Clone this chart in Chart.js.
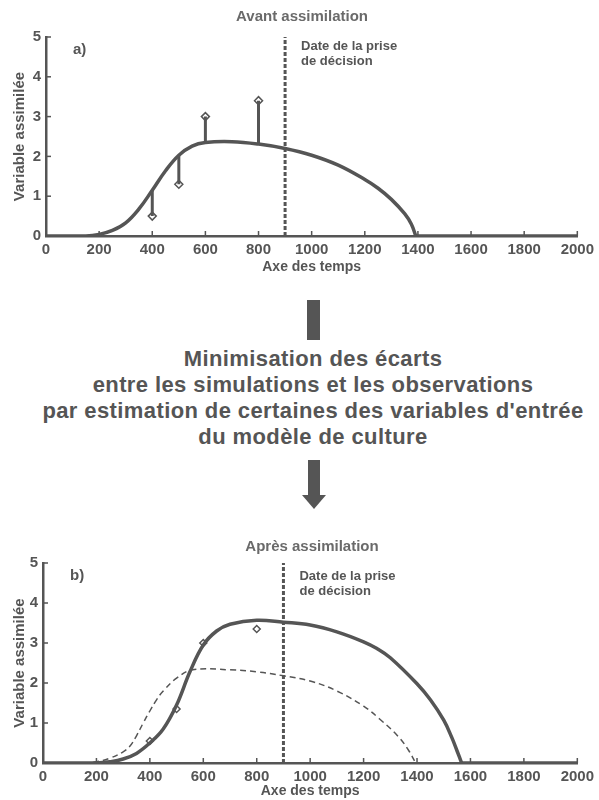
<!DOCTYPE html>
<html>
<head>
<meta charset="utf-8">
<script src="https://cdn.jsdelivr.net/npm/chart.js@4.4.0/dist/chart.umd.min.js"></script>
<style>
  body { margin: 0; background: #fff; font-family: 'Liberation Sans', Arial, sans-serif; }
  #page { position: relative; width: 599px; height: 800px; overflow: hidden; }
  .box { position: absolute; left: 0; width: 599px; }
  #top-box { top: 0; height: 276px; }
  #bottom-box { top: 520px; height: 280px; }
  .stem { position: absolute; background: #555; }
  #stem1 { left: 307px; top: 300px; width: 13px; height: 40px; }
  #stem2 { left: 308px; top: 460px; width: 12px; height: 36px; }
  #head2 { position: absolute; left: 302px; top: 495px; width: 0; height: 0;
    border-left: 12px solid transparent; border-right: 12px solid transparent; border-top: 14px solid #555; }
  #middle { position: absolute; left: 0; top: 346px; width: 626px; text-align: center;
    font-weight: bold; font-size: 22px; letter-spacing: 0.4px; line-height: 26px; color: #555; }
</style>
</head>
<body>
<div id="page">
  <div class="box" id="top-box"><canvas id="chart-a"></canvas></div>
  <div class="stem" id="stem1"></div>
  <div id="middle">
    Minimisation des écarts<br>
    entre les simulations et les observations<br>
    par estimation de certaines des variables d'entrée<br>
    du modèle de culture
  </div>
  <div class="stem" id="stem2"></div>
  <div id="head2"></div>
  <div class="box" id="bottom-box"><canvas id="chart-b"></canvas></div>
</div>
<script>
// simulation before assimilation (panel a)
const timeA = [0, 150, 200, 250, 300, 350, 400, 450, 500, 550, 600, 700, 800, 900, 1000, 1100, 1200, 1250, 1300, 1350, 1375, 1392];
const simA = [0, 0, 0.04, 0.14, 0.33, 0.68, 1.15, 1.64, 2.03, 2.26, 2.35, 2.37, 2.31, 2.2, 2.03, 1.78, 1.42, 1.2, 0.92, 0.56, 0.3, 0];

// same simulation as redrawn dashed in panel b
const timeOld = [0, 150, 200, 250, 300, 325, 350, 375, 400, 425, 450, 500, 560, 700, 800, 900, 1000, 1100, 1200, 1260, 1330, 1370, 1395];
const simOld = [0, 0, 0.03, 0.12, 0.28, 0.42, 0.68, 1.0, 1.3, 1.58, 1.8, 2.12, 2.33, 2.33, 2.28, 2.18, 2.05, 1.8, 1.42, 1.1, 0.66, 0.3, 0];

// simulation after assimilation (panel b)
const timeB = [0, 200, 250, 300, 350, 400, 450, 500, 550, 600, 650, 700, 800, 900, 1000, 1100, 1200, 1250, 1300, 1400, 1450, 1500, 1530, 1550, 1567];
const simB = [0, 0, 0.03, 0.1, 0.24, 0.5, 0.85, 1.45, 2.28, 2.95, 3.3, 3.47, 3.57, 3.52, 3.45, 3.28, 3.03, 2.86, 2.63, 1.98, 1.58, 1.07, 0.64, 0.3, 0];

// observations
const obsTimes = [400, 500, 600, 800];
const obsA = [0.5, 1.3, 3.0, 3.4];
const simAtObsA = [1.15, 2.03, 2.35, 2.31];
const obsB = [0.55, 1.35, 3.0, 3.35];

const decisionTime = 900;
const xTicks = [0, 200, 400, 600, 800, 1000, 1200, 1400, 1600, 1800, 2000];
const yTicks = [0, 1, 2, 3, 4, 5];

const ink = '#555';
const fontFamily = "'Liberation Sans', Arial, sans-serif";

const toPoints = (xs, ys) => xs.map((x, i) => ({ x: x, y: ys[i] }));
// flat part of a curve after it reaches zero
const tail = xs => [{ x: xs[xs.length - 1], y: 0 }, { x: xTicks[xTicks.length - 1], y: 0 }];

// vertical segments between observation and simulation
const residuals = [];
obsTimes.forEach((t, i) => {
    residuals.push({ x: t, y: obsA[i] });
    residuals.push({ x: t, y: simAtObsA[i] });
    residuals.push({ x: t, y: null });
});

const decisionLine = [{ x: decisionTime, y: 0 }, { x: decisionTime, y: 5 }];

// short ticks drawn inside the axes
const inwardTicks = {
    id: 'inwardTicks',
    afterDraw(chart) {
        const { ctx, chartArea, scales: { x, y } } = chart;
        ctx.save();
        ctx.strokeStyle = ink;
        ctx.lineWidth = 1.5;
        xTicks.forEach(v => {
            const px = x.getPixelForValue(v);
            ctx.beginPath();
            ctx.moveTo(px, chartArea.bottom);
            ctx.lineTo(px, chartArea.bottom - 5);
            ctx.stroke();
        });
        yTicks.forEach(v => {
            const py = y.getPixelForValue(v);
            ctx.beginPath();
            ctx.moveTo(chartArea.left, py);
            ctx.lineTo(chartArea.left + 5, py);
            ctx.stroke();
        });
        ctx.restore();
    }
};

// titles and notes
function labels(title, titleX, titleY, panel, noteTop) {
    return {
        id: 'labels',
        afterDraw(chart) {
            const { ctx, chartArea, scales: { x } } = chart;
            ctx.save();
            ctx.textBaseline = 'middle';
            ctx.textAlign = 'center';
            ctx.fillStyle = '#6a6a6a';
            ctx.font = 'bold 15px ' + fontFamily;
            ctx.fillText(title, titleX, titleY);

            ctx.fillStyle = ink;
            ctx.textAlign = 'left';
            ctx.font = 'bold 15px ' + fontFamily;
            ctx.fillText(panel, chartArea.left + 27, chartArea.top + 13);

            ctx.font = 'bold 13px ' + fontFamily;
            const nx = x.getPixelForValue(decisionTime) + 16;
            ctx.fillText('Date de la prise', nx, chartArea.top + noteTop);
            ctx.fillText('de décision', nx, chartArea.top + noteTop + 15);
            ctx.restore();
        }
    };
}

function makeOptions(padTop, yWidth, xHeight) {
    return {
        responsive: true,
        maintainAspectRatio: false,
        animation: { duration: 0 },
        layout: { padding: { top: padTop, right: 15, left: 0, bottom: 0 } },
        scales: {
            x: {
                type: 'linear',
                min: 0,
                max: 2000,
                afterFit: scale => { scale.height = xHeight; },
                afterBuildTicks: scale => { scale.ticks = xTicks.map(v => ({ value: v })); },
                grid: { display: false, drawTicks: false },
                border: { display: true, color: ink, width: 2.5 },
                ticks: { color: ink, padding: 5, maxRotation: 0, callback: v => String(v),
                    font: { family: fontFamily, size: 15, weight: 'bold' } },
                title: { display: true, text: 'Axe des temps', color: ink, padding: { top: 3, bottom: 0 },
                    font: { family: fontFamily, size: 14, weight: 'bold' } }
            },
            y: {
                min: 0,
                max: 5,
                afterFit: scale => { scale.width = yWidth; },
                afterBuildTicks: scale => { scale.ticks = yTicks.map(v => ({ value: v })); },
                grid: { display: false, drawTicks: false },
                border: { display: true, color: ink, width: 2.5 },
                ticks: { color: ink, padding: 5, callback: v => String(v),
                    font: { family: fontFamily, size: 15, weight: 'bold' } },
                title: { display: true, text: 'Variable assimilée', color: ink, padding: { top: 11, bottom: 0 },
                    font: { family: fontFamily, size: 15, weight: 'bold' } }
            }
        },
        plugins: {
            legend: { display: false },
            tooltip: { enabled: false }
        }
    };
}

const curveStyle = {
    borderColor: ink,
    borderWidth: 3.5,
    pointRadius: 0,
    tension: 0.4,
    fill: false
};

const dashedStyle = {
    borderColor: ink,
    borderWidth: 1.5,
    borderDash: [6, 4],
    pointRadius: 0,
    tension: 0.4,
    fill: false
};

const decisionStyle = {
    data: decisionLine,
    borderColor: ink,
    borderWidth: 3,
    borderDash: [4, 2],
    pointRadius: 0
};

// Chart a) before assimilation
new Chart(document.getElementById('chart-a'), {
    type: 'line',
    data: {
        datasets: [
            Object.assign({ data: toPoints(timeA, simA) }, curveStyle),
            Object.assign({ data: tail(timeA) }, curveStyle),
            { data: residuals, borderColor: ink, borderWidth: 3, pointRadius: 0, spanGaps: false },
            { data: toPoints(obsTimes, obsA), showLine: false, pointStyle: 'rectRot', pointRadius: 4,
              pointBackgroundColor: '#fff', pointBorderColor: ink, pointBorderWidth: 1.5 },
            decisionStyle
        ]
    },
    options: makeOptions(37, 46, 40),
    plugins: [inwardTicks, labels('Avant assimilation', 302, 17, 'a)', 9)]
});

// Chart b) after assimilation
new Chart(document.getElementById('chart-b'), {
    type: 'line',
    data: {
        datasets: [
            Object.assign({ data: toPoints(timeOld, simOld) }, dashedStyle),
            Object.assign({ data: toPoints(timeB, simB) }, curveStyle),
            Object.assign({ data: tail(timeB) }, curveStyle),
            { data: toPoints(obsTimes, obsB), showLine: false, pointStyle: 'rectRot', pointRadius: 3.5,
              pointBackgroundColor: '#fff', pointBorderColor: ink, pointBorderWidth: 1.5 },
            Object.assign({}, decisionStyle)
        ]
    },
    options: makeOptions(43, 43, 37),
    plugins: [inwardTicks, labels('Après assimilation', 312, 27, 'b)', 13)]
});
</script>
</body>
</html>
